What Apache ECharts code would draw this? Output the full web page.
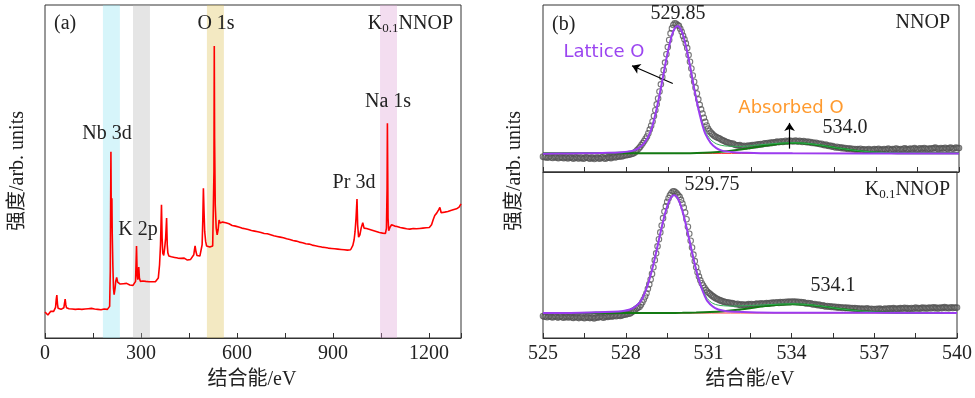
<!DOCTYPE html>
<html>
<head>
<meta charset="utf-8">
<script src="https://cdn.jsdelivr.net/npm/echarts@6/dist/echarts.min.js"></script>
<style>
html, body { margin: 0; padding: 0; background: #fff; }
#main { width: 975px; height: 398px; }
</style>
</head>
<body>
<div id="main"></div>
<script>
// (a) survey spectrum: [binding energy eV, intensity arb.]
var survey = [
  [0,7.8],[3,7.2],[6,7.9],[9,6.9],[12,7.5],[15,7.0],[18,8.0],[21,7.6],[24,8.3],[27,8.0],[30,8.6],[33,9.2],[35,11.5],[37,12.9],[39,10.2],[41,8.9],
  [44,8.7],[47,8.9],[50,8.6],[53,9.0],[56,8.8],[59,9.1],[61,10.5],[63,11.7],[65,10.0],[67,9.1],[70,8.9],[75,8.8],[80,8.9],[85,8.7],[90,8.8],
  [95,8.6],[100,8.8],[105,8.7],[110,8.9],[115,8.6],[120,8.8],[125,8.7],[130,8.6],[135,8.8],[140,8.7],[145,8.9],[150,8.6],[155,8.7],[160,8.8],
  [165,8.6],[170,8.7],[175,8.5],[180,8.6],[185,8.7],[190,8.5],[195,8.6],[200,8.7],[202,9.5],[204,20],[206,55.9],[207,38],[208,33],[209,42],
  [210,32],[212,22],[214,15],[216,13],[219,15],[221,17],[224,18.2],[227,16.8],[230,16.6],[235,16.2],[240,16.5],[245,16.3],[250,16.0],
  [255,16.4],[260,16.1],[265,15.9],[270,16.0],[275,15.8],[280,15.9],[283,17],[286,27.6],[288,19],[290,17.5],[291,18],[293,21.3],[295,18],
  [298,17],[302,16.8],[306,17.1],[310,16.8],[315,17.0],[320,16.7],[325,16.9],[330,16.6],[335,16.9],[340,16.7],[345,16.9],[350,17.1],[354,18],
  [358,22],[361,28],[364,40],[366,30],[368,25.5],[371,24.8],[374,27],[377,30],[380,36],[382,28],[384,25.5],[387,24.6],[390,25.0],[395,24.4],
  [400,24.7],[405,24.2],[410,24.5],[415,24.0],[420,24.2],[425,23.9],[430,23.6],[435,24.0],[440,23.5],[445,23.4],[450,23.8],[455,23.6],
  [460,24.0],[465,25.0],[467,26.5],[469,27.7],[472,25.8],[475,24.8],[480,24.5],[484,24.6],[488,25.2],[491,28],[493,35],[495,45],[497,38],
  [499,32],[502,29],[505,27.6],[510,27.0],[515,27.3],[520,27.1],[524,27.6],[526,28],[528,50],[529,87.7],[530,60],[532,40],[535,33],[538,31],
  [541,32.5],[544,35.4],[547,34.5],[551,34.2],[555,34.8],[560,34.5],[565,34.6],[570,34.0],
  [575,34.3],[580,34.7],[585,33.8],[590,34.1],[595,33.6],[600,33.9],[605,33.3],[610,33.7],[615,33.0],[620,33.4],[625,32.8],[630,33.2],
  [635,32.6],[640,32.9],[645,32.3],[650,32.7],[655,32.1],[660,32.5],[665,31.9],[670,32.3],[675,31.7],[680,32.0],[685,31.4],[690,31.8],
  [695,31.3],[700,31.6],[705,31.0],[710,31.3],[715,30.7],[720,31.1],[725,30.5],[730,30.9],[735,30.3],[740,30.6],[745,30.1],[750,30.4],
  [755,29.8],[760,30.2],[765,29.6],[770,29.9],[775,29.3],[780,29.7],[785,29.1],[790,29.4],[795,28.8],[800,29.2],[805,28.6],[810,28.9],
  [815,28.3],[820,28.7],[825,28.2],[830,28.5],[835,27.9],[840,28.3],[845,27.7],[850,28.0],[855,27.5],[860,27.9],[865,27.3],[870,27.7],
  [875,27.2],[880,27.5],[885,27.0],[890,27.4],[895,26.9],[900,27.3],[905,26.8],[910,27.2],[915,26.7],[920,27.1],[925,26.6],[930,27.0],
  [935,26.5],[940,26.9],[945,26.4],[950,26.8],[955,26.5],[958,27.0],[962,27.8],[966,29.5],[969,32],[972,36],[975,41.7],[977,34],[980,30.3],
  [984,31],[988,33],[993,34.6],[997,33],[1000,32.6],[1005,32.9],[1010,32.3],[1015,32.6],[1020,32.0],[1025,32.3],[1030,31.7],[1035,32.0],
  [1040,31.4],[1045,31.7],[1050,31.2],[1055,31.5],[1060,31.0],[1064,31.4],[1067,33],[1069,45],[1070,64.5],[1071,50],[1072,36],[1074,32.2],
  [1078,33.2],[1083,34.0],[1088,34.2],[1093,33.6],[1100,33.5],[1105,33.9],[1110,33.2],[1115,33.6],[1120,33.0],[1125,33.4],[1130,32.8],
  [1135,33.3],[1140,32.7],[1145,33.1],[1151,32.9],[1156,33.4],[1161,32.8],[1166,33.3],[1171,32.9],[1176,33.5],[1181,33.0],[1186,33.6],
  [1191,33.1],[1196,33.7],[1201,33.2],[1205,33.6],[1208,34.0],[1213,35.5],[1218,36.8],[1224,37.5],[1230,38.5],[1234,39.2],[1238,37.6],
  [1244,37.1],[1249,37.8],[1254,37.2],[1259,38.0],[1264,37.4],[1268,38.3],[1273,37.8],[1278,38.6],[1282,38.0],[1286,38.8],[1290,38.5],
  [1294,39.3],[1297,39.6],[1300,40.3]
];
// highlighted element regions (eV)
var bandRanges = [[181, 234], [275, 328], [506, 559], [1047, 1100]];
var bandColors = ['rgba(138,226,241,0.35)', 'rgba(181,181,181,0.35)', 'rgba(221,192,81,0.35)', 'rgba(221,158,212,0.35)'];

// (b) O 1s raw data, 525 eV to 540 eV every 0.05 eV
var oStart = 525, oStep = 0.05;
var nnopCounts = [
  9.2,8.8,9.0,8.5,8.9,9.3,8.7,8.4,8.8,9.1,8.6,8.2,8.7,9.0,8.5,8.3,8.8,8.6,8.1,8.5,
  8.9,8.4,8.0,8.6,8.8,8.3,8.1,8.7,8.4,7.9,8.3,8.8,8.5,8.2,8.0,8.6,8.4,7.8,8.2,8.7,
  8.3,8.0,8.5,8.8,8.2,7.9,8.4,8.9,8.6,8.3,8.8,9.1,8.7,9.0,9.4,9.1,9.6,9.3,9.8,10.0,
  10.0,10.2,10.3,10.6,10.8,11.1,11.6,12.3,13.2,14.1,15.0,16.1,17.3,18.6,19.9,21.3,23.2,25.4,27.7,30.2,
  33.5,37.0,40.5,44.0,48.2,52.5,56.8,61.0,65.5,70.5,74.8,79.0,83.0,86.0,88.0,89.0,88.8,88.0,87.5,85.8,
  84.0,81.5,79.5,77.0,74.2,70.0,66.0,62.0,57.8,54.0,50.5,47.0,43.5,40.2,37.5,35.0,32.5,30.0,27.8,26.0,
  24.6,23.6,22.8,22.0,21.4,21.0,20.5,20.2,19.8,19.2,18.8,18.5,18.0,17.8,17.5,17.2,16.9,17.1,16.5,16.2,
  16.0,15.8,16.1,15.6,15.4,15.7,15.3,15.6,15.9,15.5,15.8,16.2,15.9,16.3,16.0,16.6,16.4,16.8,16.5,16.9,
  17.2,16.9,17.4,17.1,17.6,17.3,17.8,17.5,17.9,18.2,17.8,18.1,18.4,18.0,18.3,18.7,18.2,18.5,18.9,18.4,
  18.6,18.3,18.9,18.5,18.2,18.7,18.4,18.0,18.5,18.1,17.8,18.2,17.7,17.9,17.4,17.6,17.2,17.5,16.9,17.1,
  16.6,16.9,16.3,16.0,16.4,15.8,15.6,15.9,15.2,15.5,15.0,14.7,15.1,14.5,14.8,14.3,14.6,14.1,14.4,14.0,
  13.8,14.2,13.6,13.9,13.5,13.8,13.3,13.7,13.4,13.9,13.2,13.6,13.4,13.1,13.5,13.8,13.3,13.0,13.4,13.7,
  13.2,13.6,13.9,13.4,13.1,13.5,13.8,13.3,13.6,14.0,13.5,13.2,13.7,13.4,13.9,14.1,13.6,13.3,13.8,13.5,
  13.9,14.2,13.7,13.4,13.8,14.1,13.6,13.9,14.3,13.8,13.5,13.9,14.2,13.7,14.0,14.4,13.9,13.6,14.1,13.8,
  14.2,13.9,14.3,14.6,14.0,13.7,14.1,14.4,13.9,14.2,14.5,14.0,13.8,14.3,14.6,14.1,13.9,14.4,14.7,14.2,
  14.3
];
var knnopCounts = [
  13.2,12.8,13.0,12.5,12.9,13.3,12.7,12.4,12.9,13.1,12.6,12.3,12.8,13.0,12.5,12.2,12.7,12.9,12.4,12.6,
  12.9,12.4,12.1,12.6,12.8,12.3,12.0,12.5,12.8,12.2,11.9,12.4,12.7,12.2,12.0,12.5,12.3,11.8,12.2,12.6,
  12.3,12.7,12.9,12.5,12.2,12.8,13.1,12.7,13.0,13.3,12.9,13.2,13.5,13.1,13.4,13.7,13.3,13.6,13.9,14.1,
  14.2,14.4,14.6,14.8,15.3,15.9,16.5,17.2,17.9,18.3,18.9,20.0,21.5,23.2,25.0,27.0,29.6,32.3,35.2,38.6,
  42.6,46.9,51.0,55.2,59.5,63.6,67.8,72.2,76.2,79.3,82.0,84.2,86.0,87.2,88.2,88.4,87.8,87.0,86.0,85.0,
  83.2,81.0,78.6,75.6,71.5,67.0,62.8,58.6,54.5,50.2,46.3,42.6,39.6,37.0,34.8,33.0,31.6,30.3,29.0,28.0,
  27.2,26.6,25.8,25.2,24.6,24.0,23.6,23.2,22.8,22.5,22.1,21.9,21.6,21.5,21.2,21.4,20.9,21.1,20.7,20.5,
  20.3,20.6,20.1,19.9,20.3,20.0,19.8,20.2,19.9,20.4,20.1,20.5,20.2,20.0,20.4,20.7,20.3,20.6,20.9,20.5,
  20.8,20.6,21.0,20.7,21.1,20.9,21.3,21.0,21.4,21.2,21.5,21.1,21.6,21.3,21.7,21.4,21.8,21.5,21.9,21.6,
  21.8,22.0,21.7,21.9,21.5,21.8,21.4,21.6,21.2,21.5,21.0,20.8,21.1,20.6,20.9,20.4,20.2,20.5,20.0,19.8,
  20.1,19.6,19.4,19.7,19.2,19.0,19.3,18.8,19.1,18.7,18.9,18.5,18.8,18.3,18.6,18.2,18.5,18.1,18.4,18.0,
  18.3,17.9,18.2,17.8,18.1,17.7,18.0,17.6,17.9,17.5,17.8,17.4,17.7,17.3,17.6,17.9,17.4,17.2,17.6,17.3,
  17.5,17.2,17.6,17.3,17.7,17.4,17.1,17.5,17.8,17.3,17.6,17.9,17.4,17.7,18.0,17.5,17.8,17.4,17.7,18.0,
  17.6,17.9,18.2,17.7,18.0,17.5,17.8,18.1,17.6,17.9,18.3,17.8,18.1,17.7,18.0,18.4,17.9,18.2,17.8,18.1,
  18.3,17.9,18.2,18.5,18.0,18.3,17.8,18.1,18.4,18.0,18.3,18.6,18.1,18.4,17.9,18.2,18.5,18.1,18.4,18.2,
  18.3
];
// fitted components [eV, intensity]
var nnopLattice = [[525,11.0],[526,11.1],[526.85,11.3],[527.35,11.5],[527.85,11.9],[528.05,12.2],[528.25,12.8],[528.45,14.3],[528.65,17.3],
  [528.85,23.0],[528.95,28.0],[529.05,34.4],[529.15,41.9],[529.25,50.2],[529.35,59.1],[529.45,67.8],[529.55,75.6],[529.65,82.0],[529.75,86.0],
  [529.85,87.4],[529.95,86.0],[530.05,82.0],[530.15,75.6],[530.25,67.8],[530.35,59.1],[530.45,50.2],[530.55,41.9],[530.65,34.4],[530.75,28.0],
  [530.85,23.0],[531.05,17.3],[531.25,14.3],[531.45,12.8],[531.65,12.2],[531.85,11.9],[532.35,11.5],[532.85,11.3],[534,11.2],[540,11.1]];
var nnopAbsorbed = [[525,11.2],[529,11.2],[530.05,11.28],[530.55,11.42],[531.05,11.74],[531.55,12.33],[532.05,13.27],[532.55,14.5],[533.05,15.85],
  [533.55,16.9],[534.05,17.3],[534.55,16.9],[535.05,15.85],[535.55,14.5],[536.05,13.27],[536.55,12.33],[537.05,11.74],[537.55,11.42],
  [538.05,11.28],[539,11.2],[540,11.2]];
var nnopEnvelope = [[525,11.0],[527.85,11.9],[528.25,12.8],[528.45,14.3],[528.65,17.3],[528.85,23.0],[529.05,34.4],[529.25,50.2],[529.45,67.8],
  [529.65,82.0],[529.85,87.5],[530.05,82.2],[530.25,68.2],[530.45,50.8],[530.65,35.3],[530.85,24.4],[531.05,19.3],[531.25,16.9],[531.45,15.9],
  [531.65,15.5],[531.85,15.4],[532.05,15.3],[532.35,15.5],[532.55,15.9],[533.05,16.6],[533.55,17.3],[534.05,17.5],[534.55,17.1],[535.05,16.0],
  [535.55,14.6],[536.05,13.4],[536.55,12.4],[537.05,11.8],[537.55,11.5],[538.05,11.3],[540,11.2]];
var nnopBackground = [[525,11.0],[540,11.2]];
var knnopLattice = [[525,15.0],[526,15.1],[526.75,15.4],[527.25,15.6],[527.75,16.0],[527.95,16.4],[528.15,17.2],[528.35,19.0],[528.55,22.4],
  [528.65,25.7],[528.75,29.8],[528.85,35.0],[528.95,41.0],[529.05,47.9],[529.15,55.4],[529.25,63.0],[529.35,70.2],[529.45,76.6],[529.55,81.7],
  [529.65,84.9],[529.75,86.0],[529.85,84.9],[529.95,81.7],[530.05,76.6],[530.15,70.2],[530.25,63.0],[530.35,55.4],[530.45,47.9],[530.55,41.0],
  [530.65,35.0],[530.75,29.8],[530.85,25.7],[530.95,22.4],[531.15,19.0],[531.35,17.2],[531.55,16.4],[531.75,16.0],[532.25,15.6],[532.75,15.4],
  [534,15.2],[540,15.1]];
var knnopAbsorbed = [[525,15.1],[529.5,15.1],[530.05,15.19],[530.55,15.33],[531.05,15.63],[531.55,16.18],[532.05,17.0],[532.55,18.08],[533.05,19.2],
  [533.55,20.07],[534.05,20.4],[534.55,20.07],[535.05,19.2],[535.55,18.08],[536.05,17.0],[536.55,16.18],[537.05,15.63],[537.55,15.33],
  [538.05,15.19],[540,15.1]];
var knnopEnvelope = [[525,15.0],[527.75,16.0],[528.15,17.3],[528.55,22.5],[528.75,29.9],[528.95,41.1],[529.15,55.5],[529.35,70.3],[529.55,81.8],
  [529.75,86.1],[529.95,81.9],[530.15,70.6],[530.35,56.0],[530.55,41.7],[530.75,30.8],[530.95,23.8],[531.15,20.9],[531.35,19.8],[531.55,19.4],
  [531.85,19.2],[532.05,19.3],[532.55,19.6],[533.05,20.0],[533.55,20.4],[534.05,20.6],[534.55,20.2],[535.05,19.3],[535.55,18.1],[536.05,17.0],
  [536.55,16.2],[537.05,15.6],[537.55,15.3],[538.05,15.2],[540,15.1]];
var knnopBackground = [[525,15.0],[540,15.1]];
// arrows [from, to] in data units
var latticeArrow = [[529.68, 53], [528.21, 63.6]];
var absorbedArrow = [[533.89, 14], [533.89, 29.4]];

var serif = "'Liberation Serif', 'Noto Sans CJK SC', serif";
var sans = "'DejaVu Sans', sans-serif";
var ink = '#222';

function energyPairs(arr) {
  return arr.map(function (v, i) { return [+(oStart + i * oStep).toFixed(2), v]; });
}

function xAxisOf(grid, min, max, interval, labelStep, showLabel) {
  return {
    type: 'value', gridIndex: grid, min: min, max: max, interval: interval,
    axisLine: { show: true, lineStyle: { color: '#333', width: 1 } },
    axisTick: { inside: true, length: 5, lineStyle: { color: '#333' } },
    splitLine: { show: false },
    axisLabel: {
      show: showLabel, margin: 6, color: ink, fontFamily: serif, fontSize: 20,
      formatter: function (v) {
        var k = (v - min) / labelStep;
        return Math.abs(k - Math.round(k)) < 1e-6 ? String(v) : '';
      }
    }
  };
}

function fitLine(x, data, color, width, z) {
  return {
    type: 'line', xAxisIndex: x, yAxisIndex: x, data: data, smooth: 0.3, showSymbol: false,
    lineStyle: { color: color, width: width }, z: z, silent: true
  };
}

function pointsOf(x, data) {
  return {
    type: 'scatter', xAxisIndex: x, yAxisIndex: x, data: energyPairs(data), symbol: 'circle', symbolSize: 5.5,
    itemStyle: { color: 'rgba(0,0,0,0)', borderColor: '#555', borderWidth: 1.1 }, z: 1, silent: true
  };
}

function arrowOf(pts) {
  return {
    silent: true, symbol: ['none', 'arrow'], symbolSize: 8, label: { show: false },
    lineStyle: { color: '#000', width: 1.2, type: 'solid' },
    data: [[{ coord: pts[0] }, { coord: pts[1] }]]
  };
}

function label(x, y, text, align, extra) {
  var style = { text: text, fill: ink, font: '20px ' + serif, align: align, verticalAlign: 'middle' };
  for (var k in extra) style[k] = extra[k];
  return { type: 'text', x: x, y: y, style: style, z: 100 };
}
var subRich = { s: { fontSize: 13, fontFamily: serif, fill: ink, padding: [9, 0, 0, 0] } };

var grids = [
  { left: 45, top: 5, width: 416, height: 333 },
  { left: 543, top: 5, width: 416, height: 167 },
  { left: 543, top: 172, width: 416, height: 166 }
].map(function (g) { g.show = true; g.borderColor = '#333'; g.borderWidth = 1; return g; });

var chart = echarts.init(document.getElementById('main'));
chart.setOption({
  animation: false,
  grid: grids,
  xAxis: [
    xAxisOf(0, 0, 1300, 150, 300, true),
    xAxisOf(1, 525, 540, 1.5, 3, false),
    xAxisOf(2, 525, 540, 1.5, 3, true)
  ],
  yAxis: [0, 1, 2].map(function (g) { return { type: 'value', gridIndex: g, min: 0, max: 100, show: false }; }),
  series: [
    {
      type: 'line', xAxisIndex: 0, yAxisIndex: 0, data: survey, showSymbol: false,
      lineStyle: { color: '#ff0000', width: 1.6 }, z: 2, silent: true
    },
    {
      type: 'line', xAxisIndex: 0, yAxisIndex: 0, data: [], z: 3, silent: true,
      markArea: {
        silent: true,
        data: bandRanges.map(function (r, i) { return [{ xAxis: r[0], itemStyle: { color: bandColors[i] } }, { xAxis: r[1] }]; })
      }
    },
    pointsOf(1, nnopCounts),
    fitLine(1, nnopBackground, '#ff4040', 1, 2),
    fitLine(1, nnopAbsorbed, '#137a13', 2, 3),
    fitLine(1, nnopEnvelope, '#2fae55', 1, 4),
    Object.assign(fitLine(1, nnopLattice, '#9b3cf0', 2, 5), { markLine: arrowOf(latticeArrow) }),
    Object.assign(fitLine(1, [], '#000', 1, 6), { markLine: arrowOf(absorbedArrow) }),
    pointsOf(2, knnopCounts),
    fitLine(2, knnopBackground, '#ff4040', 1, 2),
    fitLine(2, knnopAbsorbed, '#137a13', 2, 3),
    fitLine(2, knnopEnvelope, '#2fae55', 1, 4),
    fitLine(2, knnopLattice, '#9b3cf0', 2, 5)
  ],
  graphic: [
    label(54, 24, '(a)', 'left'),
    label(216, 24, 'O 1s', 'center'),
    label(453, 24, 'K{s|0.1}NNOP', 'right', { rich: subRich }),
    label(107, 134, 'Nb 3d', 'center'),
    label(138, 230, 'K 2p', 'center'),
    label(354, 183, 'Pr 3d', 'center'),
    label(388, 102, 'Na 1s', 'center'),
    label(552, 25, '(b)', 'left'),
    label(678, 14, '529.85', 'center'),
    label(950, 23, 'NNOP', 'right'),
    label(604, 52, 'Lattice O', 'center', { font: '18px ' + sans, fill: '#9b45f0' }),
    label(791, 108, 'Absorbed O', 'center', { font: '18px ' + sans, fill: '#ff9a2e' }),
    label(845, 128, '534.0', 'center'),
    label(712, 185, '529.75', 'center'),
    label(950, 190, 'K{s|0.1}NNOP', 'right', { rich: subRich }),
    label(833, 286, '534.1', 'center'),
    label(252, 380, '结合能/eV', 'center'),
    label(750, 380, '结合能/eV', 'center'),
    Object.assign(label(18, 171, '强度/arb. units', 'center'), { rotation: Math.PI / 2 }),
    Object.assign(label(515, 171, '强度/arb. units', 'center'), { rotation: Math.PI / 2 })
  ]
});
</script>
</body>
</html>
